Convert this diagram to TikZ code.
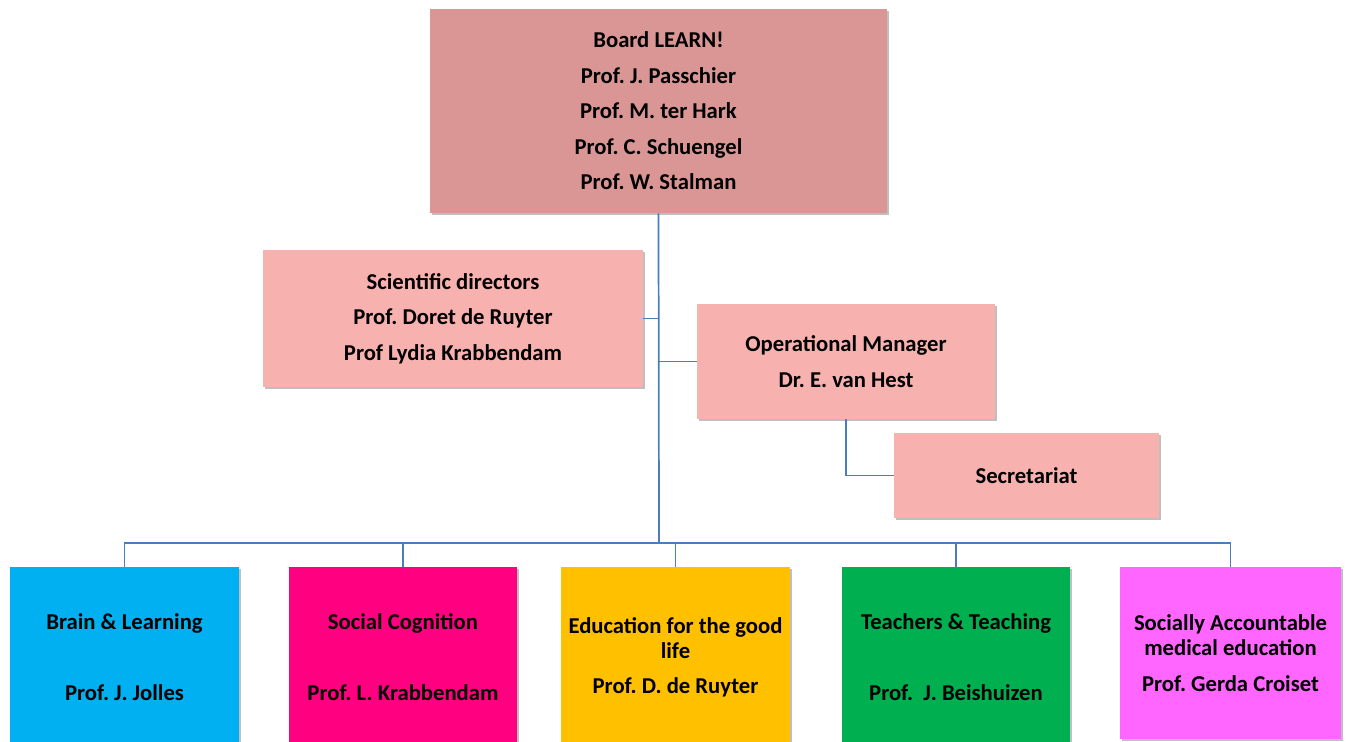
\documentclass[tikz,border=0pt]{standalone}
\usepackage{fontspec}
\setmainfont{Carlito}
\frenchspacing
\usetikzlibrary{shadows}
\definecolor{boardc}{RGB}{217,150,148}
\definecolor{pinkc}{RGB}{247,177,174}
\definecolor{linec}{RGB}{74,126,187}
\definecolor{brainc}{RGB}{0,176,240}
\definecolor{socc}{RGB}{255,0,128}
\definecolor{educc}{RGB}{255,192,0}
\definecolor{teachc}{RGB}{0,176,80}
\definecolor{medc}{RGB}{255,102,255}
\tikzset{
  orgbox/.style={draw=none, rectangle, inner sep=0pt, align=center,
    font=\fontsize{17}{26.6}\selectfont\bfseries\frenchspacing,
    drop shadow={shadow xshift=1.2pt, shadow yshift=-1.5pt, opacity=0.25, fill=black}},
  link/.style={draw=linec, line width=1.3pt}
}
\begin{document}
\begin{tikzpicture}[x=0.75pt,y=-0.75pt]
\useasboundingbox (0,0) rectangle (1349,742);
\node[orgbox, fill=boardc, minimum width=342.75pt, minimum height=153pt] (board) at (658.5,111)
  {Board LEARN!\\Prof. J. Passchier\\Prof. M. ter Hark\\Prof. C. Schuengel\\Prof. W. Stalman};
\node[orgbox, fill=pinkc, minimum width=285pt, minimum height=102.75pt] (sci) at (453,318.5)
  {Scientific directors\\Prof. Doret de Ruyter\\Prof Lydia Krabbendam};
\node[orgbox, fill=pinkc, minimum width=223.5pt, minimum height=86.25pt] (op) at (846,361.5)
  {Operational Manager\\Dr. E. van Hest};
\node[orgbox, fill=pinkc, minimum width=198.75pt, minimum height=63.75pt] (sec) at (1026.5,475.5)
  {Secretariat};
\node[orgbox, fill=brainc, minimum width=171.75pt, minimum height=135.75pt] (brain) at (124.5,657.5)
  {Brain \& Learning\\[26.6pt]Prof. J. Jolles};
\node[orgbox, fill=socc, minimum width=171pt, minimum height=135.75pt] (social) at (403,657.5)
  {Social Cognition\\[26.6pt]Prof. L. Krabbendam};
\node[orgbox, fill=educc, minimum width=171.75pt, minimum height=135.75pt] (educ) at (675.5,657.5)
  {Education for the good\\[-7.8pt]life\\Prof. D. de Ruyter};
\node[orgbox, fill=teachc, minimum width=171pt, minimum height=135.75pt] (teach) at (956,657.5)
  {Teachers \& Teaching\\[26.6pt]Prof.\ \ J. Beishuizen};
\node[orgbox, fill=medc, minimum width=165.75pt, minimum height=129pt] (med) at (1230.5,653)
  {Socially Accountable\\[-7.8pt]medical education\\Prof. Gerda Croiset};
\coordinate (bus) at (659,543);
\draw[link] (board.south) -- (bus);
\draw[link] (sci.east) -- (sci.east -| board.south);
\draw[link] (op.west) -- (op.west -| board.south);
\draw[link] (op.south) |- (sec.west);
\foreach \n in {brain,social,educ,teach,med}
  \draw[link] (\n.north) |- (bus);
\end{tikzpicture}
\end{document}
